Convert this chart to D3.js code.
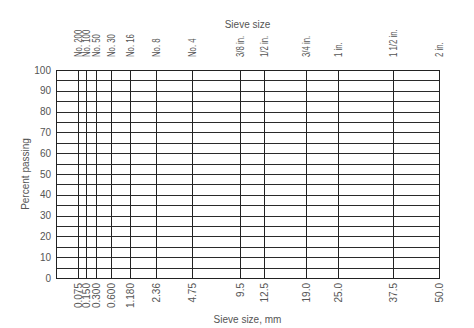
<!DOCTYPE html>
<html>
<head>
<meta charset="utf-8">
<script src="https://cdn.jsdelivr.net/npm/d3@7"></script>
<style>
  html, body { margin: 0; padding: 0; background: #fff; }
  text { font-family: "Liberation Sans", Arial, sans-serif; fill: #555; }
</style>
</head>
<body>
<script>
// Data
const sieveSizesMm = [0.075, 0.150, 0.300, 0.600, 1.180, 2.36, 4.75, 9.5, 12.5, 19.0, 25.0, 37.5, 50.0];
const mmLabels = ['0.075', '0.150', '0.300', '0.600', '1.180', '2.36', '4.75', '9.5', '12.5', '19.0', '25.0', '37.5', '50.0'];
const sieveNames = ['No. 200', 'No. 100', 'No. 50', 'No. 30', 'No. 16', 'No. 8', 'No. 4', '3/8 in.', '1/2 in.', '3/4 in.', '1 in.', '1 1/2 in.', '2 in.'];
const percentTicks = [0, 10, 20, 30, 40, 50, 60, 70, 80, 90, 100];
const percentGrid = d3.range(0, 101, 5);

// Constants
const width = 474;
const height = 328;
const margin = { top: 70, right: 35, bottom: 50, left: 56 };

// Create SVG
const svg = d3.select('body')
    .append('svg')
    .attr('width', width)
    .attr('height', height);

// Scales (gradation chart, power style x axis)
const x = d3.scalePow()
    .exponent(0.44)
    .domain([0, 50])
    .range([margin.left, width - margin.right]);

const y = d3.scaleLinear()
    .domain([0, 100])
    .range([height - margin.bottom, margin.top]);

// Horizontal grid lines
svg.append('g')
    .attr('stroke', '#2a2a2a')
    .attr('stroke-width', 1)
    .selectAll('line')
    .data(percentGrid)
    .join('line')
    .attr('x1', x(0))
    .attr('x2', x(50))
    .attr('y1', d => Math.round(y(d)) + 0.5)
    .attr('y2', d => Math.round(y(d)) + 0.5);

// Vertical sieve lines
svg.append('g')
    .attr('stroke', '#222')
    .attr('stroke-width', 1)
    .selectAll('line')
    .data(sieveSizesMm)
    .join('line')
    .attr('x1', d => Math.round(x(d)) + 0.5)
    .attr('x2', d => Math.round(x(d)) + 0.5)
    .attr('y1', y(0))
    .attr('y2', y(100));

// Frame
svg.append('rect')
    .attr('x', Math.round(x(0)) + 0.5)
    .attr('y', Math.round(y(100)) + 0.5)
    .attr('width', Math.round(x(50)) - Math.round(x(0)))
    .attr('height', Math.round(y(0)) - Math.round(y(100)))
    .attr('fill', 'none')
    .attr('stroke', '#222')
    .attr('stroke-width', 1);

// Y axis labels
svg.append('g')
    .selectAll('text')
    .data(percentTicks)
    .join('text')
    .attr('x', x(0) - 5)
    .attr('y', d => y(d))
    .attr('dy', '0.35em')
    .attr('text-anchor', 'end')
    .attr('font-size', 10)
    .text(d => d);

// Bottom labels (mm)
svg.append('g')
    .selectAll('text')
    .data(sieveSizesMm)
    .join('text')
    .attr('transform', d => `translate(${x(d) + 0.5},${y(0) + 5}) rotate(-90)`)
    .attr('dy', '0.35em')
    .attr('text-anchor', 'end')
    .attr('font-size', 10)
    .text((d, i) => mmLabels[i]);

// Top labels (sieve names)
svg.append('g')
    .selectAll('text')
    .data(sieveSizesMm)
    .join('text')
    .attr('transform', d => `translate(${x(d) + 0.5},${y(100) - 13}) rotate(-90) scale(0.78,1)`)
    .attr('dy', '0.35em')
    .attr('text-anchor', 'start')
    .attr('font-size', 10)
    .text((d, i) => sieveNames[i]);

// Titles
const cx = (x(0) + x(50)) / 2;
svg.append('text')
    .attr('x', cx)
    .attr('y', 28)
    .attr('text-anchor', 'middle')
    .attr('font-size', 10)
    .text('Sieve size');

svg.append('text')
    .attr('x', cx)
    .attr('y', 323)
    .attr('text-anchor', 'middle')
    .attr('font-size', 10)
    .text('Sieve size, mm');

svg.append('text')
    .attr('transform', `translate(29,${(y(0) + y(100)) / 2}) rotate(-90)`)
    .attr('text-anchor', 'middle')
    .attr('font-size', 10)
    .text('Percent passing');
</script>
</body>
</html>
